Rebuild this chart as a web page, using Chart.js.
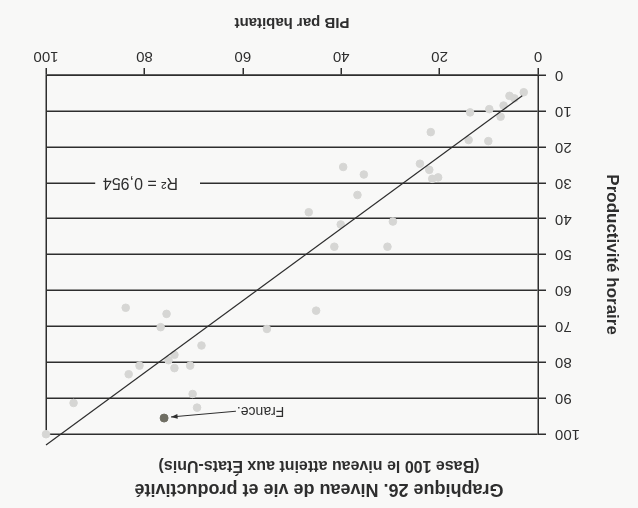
<!DOCTYPE html>
<html lang="fr">
<head>
<meta charset="utf-8">
<title>Niveau de vie et productivité</title>
<script src="https://cdn.jsdelivr.net/npm/chart.js@4"></script>
<style>
  html, body { margin: 0; padding: 0; background: #f8f8f7; }
  /* the scanned page is printed upside down, so the whole figure is turned */
  #wrap { width: 638px; height: 508px; transform: rotate(180deg); }
</style>
</head>
<body>
<div id="wrap">
  <canvas id="chart" width="638" height="508"></canvas>
</div>
<script>
// PIB par habitant (x) and productivité horaire (y), base 100 = États-Unis
const pibHabitant = [2.9, 5.8, 4.8, 7.0, 7.6, 9.9, 13.8, 14.1, 10.1, 21.8, 24.0, 22.1, 21.5, 20.3,
  39.6, 35.4, 36.7, 46.6, 40.1, 29.5, 41.4, 30.6, 45.1, 55.1, 83.8, 75.5, 76.7, 68.4, 73.9,
  75.1, 81.0, 83.2, 73.9, 70.7, 70.2, 69.3, 94.4, 100];
const productiviteHoraire = [4.8, 5.8, 6.5, 8.5, 11.6, 9.5, 10.4, 18.1, 18.4, 15.9, 24.7, 26.4, 28.9, 28.5,
  25.6, 27.7, 33.4, 38.2, 41.6, 40.8, 47.8, 47.8, 65.6, 70.7, 64.8, 66.5, 70.2, 75.3, 77.9,
  79.4, 80.9, 83.3, 81.6, 80.9, 88.8, 92.6, 91.3, 100];

// France is highlighted
const francePib = [76.0];
const franceProductivite = [95.5];

// regression line, ends
const tendancePib = [3.2, 100];
const tendanceProductivite = [5.8, 103];

const xTicks = [0, 20, 40, 60, 80, 100];
const yTicks = [0, 10, 20, 30, 40, 50, 60, 70, 80, 90, 100];

const r2Label = "R² = 0,954";
const FONT = "'Liberation Sans', Arial, Helvetica, sans-serif";
const INK = "#2e2e2e";

const toPoints = (xs, ys) => xs.map((x, i) => ({ x: x, y: ys[i] }));

// draws the R² label and the France pointer
const annotations = {
  id: "annotations",
  afterDatasetsDraw(chart) {
    const { ctx, scales: { x, y } } = chart;
    ctx.save();

    // R² label sits on the 30 gridline, which is broken around it
    const rx = x.getPixelForValue(80.8);
    const ry = y.getPixelForValue(30);
    ctx.fillStyle = "#f8f8f7";
    ctx.fillRect(x.getPixelForValue(68.7), ry - 4, x.getPixelForValue(90) - x.getPixelForValue(68.7), 8);
    ctx.fillStyle = INK;
    ctx.font = "16px " + FONT;
    ctx.textAlign = "center";
    ctx.textBaseline = "middle";
    ctx.fillText(r2Label, rx, ry);

    // France label with arrow
    const lx = x.getPixelForValue(61.2);
    const ly = y.getPixelForValue(93.6);
    ctx.font = "14px " + FONT;
    ctx.textAlign = "right";
    ctx.fillText("France.", lx, ly);

    const ax = x.getPixelForValue(74.6);
    const ay = y.getPixelForValue(95.2);
    ctx.strokeStyle = INK;
    ctx.lineWidth = 1;
    ctx.beginPath();
    ctx.moveTo(lx + 1, ly);
    ctx.lineTo(ax, ay);
    ctx.stroke();
    const ang = Math.atan2(ay - ly, ax - lx);
    ctx.fillStyle = INK;
    ctx.beginPath();
    ctx.moveTo(ax, ay);
    ctx.lineTo(ax - 7 * Math.cos(ang - 0.35), ay - 7 * Math.sin(ang - 0.35));
    ctx.lineTo(ax - 7 * Math.cos(ang + 0.35), ay - 7 * Math.sin(ang + 0.35));
    ctx.closePath();
    ctx.fill();

    ctx.restore();
  }
};

new Chart(document.getElementById("chart"), {
  type: "scatter",
  data: {
    datasets: [
      {
        label: "Tendance",
        data: toPoints(tendancePib, tendanceProductivite),
        showLine: true,
        borderColor: INK,
        borderWidth: 1.2,
        pointRadius: 0,
        clip: false
      },
      {
        label: "France",
        data: toPoints(francePib, franceProductivite),
        backgroundColor: "#6f6e63",
        borderColor: "#6f6e63",
        pointRadius: 4,
        clip: false
      },
      {
        label: "Pays",
        data: toPoints(pibHabitant, productiviteHoraire),
        backgroundColor: "#d6d6d4",
        borderColor: "#d6d6d4",
        pointRadius: 3.8,
        clip: false
      }
    ]
  },
  options: {
    responsive: false,
    animation: false,
    devicePixelRatio: 1,
    layout: { padding: 0 },
    plugins: {
      legend: { display: false },
      tooltip: { enabled: false },
      title: {
        display: true,
        text: "Graphique 26. Niveau de vie et productivité",
        color: INK,
        font: { family: FONT, size: 18, weight: "bold" },
        padding: { top: 8, bottom: 3 }
      },
      subtitle: {
        display: true,
        text: "(Base 100 le niveau atteint aux États-Unis)",
        color: INK,
        font: { family: FONT, size: 16, weight: "bold" },
        padding: { top: 0, bottom: 22 }
      }
    },
    scales: {
      x: {
        type: "linear",
        min: 0,
        max: 100,
        afterBuildTicks: (s) => { s.ticks = xTicks.map(v => ({ value: v })); },
        afterFit: (s) => { s.height = 75; },
        ticks: { color: INK, font: { family: FONT, size: 15 }, padding: 3 },
        grid: {
          color: (c) => (c.tick && c.tick.value === 100 ? INK : "transparent"),
          tickColor: INK,
          tickLength: 7,
          lineWidth: 1.5
        },
        border: { display: true, color: INK, width: 1.5 },
        title: {
          display: true,
          text: "PIB par habitant",
          color: INK,
          font: { family: FONT, size: 15, weight: "bold" },
          padding: { top: 0, bottom: 13 }
        }
      },
      y: {
        type: "linear",
        min: 0,
        max: 100,
        afterBuildTicks: (s) => { s.ticks = yTicks.map(v => ({ value: v })); },
        afterFit: (s) => { s.width = 100; },
        ticks: { color: INK, font: { family: FONT, size: 15 }, padding: 9 },
        grid: { color: INK, tickColor: INK, tickLength: 8, lineWidth: 1.5 },
        border: { display: true, color: INK, width: 1.5 },
        title: {
          display: true,
          text: "Productivité horaire",
          color: INK,
          font: { family: FONT, size: 17, weight: "bold" },
          padding: { top: 16, bottom: 0 }
        }
      },
      // empty right-hand axis, only keeps the margin so the title stays centred
      marge: {
        type: "linear",
        position: "right",
        display: true,
        ticks: { display: false },
        grid: { display: false },
        border: { display: false },
        afterFit: (s) => { s.width = 46; }
      }
    }
  },
  plugins: [annotations]
});
</script>
</body>
</html>
